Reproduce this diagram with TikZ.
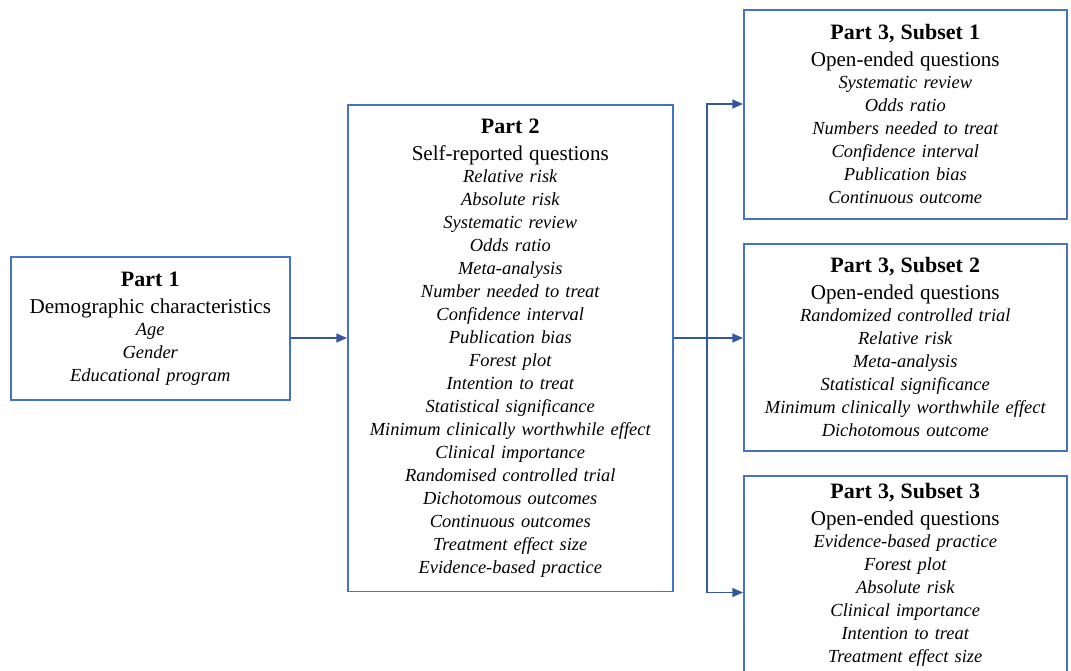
\documentclass[tikz,border=0pt]{standalone}
\usepackage{fontspec}
\setmainfont{Liberation Serif}
\usetikzlibrary{arrows.meta, positioning}

\definecolor{boxblue}{RGB}{68,114,196}
\definecolor{linkblue}{RGB}{52,88,160}

% heading lines of each box
\newcommand{\boxhead}[2]{{\fontsize{12.5}{15.4}\selectfont\bfseries #1\par}%
  {\fontsize{12}{15.4}\selectfont #2\par}\vspace{-0.6pt}\itshape}

\begin{document}
\begin{tikzpicture}[
    x=0.02cm, y=-0.02cm,
    partbox/.style={rectangle, draw=boxblue, line width=0.9pt, anchor=north west,
        inner xsep=2pt, align=center, font=\fontsize{10.5}{13.1}\selectfont},
    line/.style={draw=linkblue, line width=0.9pt},
    arrow/.style={line, -{Triangle[length=6pt, width=5pt]}}
]
\useasboundingbox (0,0) rectangle (1071,670);
\clip (0,0) rectangle (1071,670);

% Part 1 box
\node[partbox, minimum width=5.58cm, minimum height=2.86cm, text width=5.3cm] (part1) at (10,256)
    {\boxhead{Part 1}{Demographic characteristics}Age\\Gender\\Educational program};

% Part 2 box
\node[partbox, minimum width=6.5cm, minimum height=9.74cm, text width=6.3cm] (part2) at (347,104)
    {\boxhead{Part 2}{Self-reported questions}Relative risk\\Absolute risk\\Systematic review\\
     Odds ratio\\Meta-analysis\\Number needed to treat\\Confidence interval\\Publication bias\\
     Forest plot\\Intention to treat\\Statistical significance\\Minimum clinically worthwhile effect\\
     Clinical importance\\Randomised controlled trial\\Dichotomous outcomes\\Continuous outcomes\\
     Treatment effect size\\Evidence-based practice};

% Part 3 boxes
\node[partbox, minimum width=6.46cm, minimum height=4.18cm, text width=6.3cm] (sub1) at (743,9)
    {\boxhead{Part 3, Subset 1}{Open-ended questions}Systematic review\\Odds ratio\\
     Numbers needed to treat\\Confidence interval\\Publication bias\\Continuous outcome};
\node[partbox, minimum width=6.46cm, minimum height=4.14cm, text width=6.3cm] (sub2) at (743,243)
    {\boxhead{Part 3, Subset 2}{Open-ended questions}Randomized controlled trial\\Relative risk\\
     Meta-analysis\\Statistical significance\\Minimum clinically worthwhile effect\\Dichotomous outcome};
\node[partbox, minimum width=6.46cm, minimum height=3.96cm, text width=6.3cm] (sub3) at (743,475)
    {\boxhead{Part 3, Subset 3}{Open-ended questions}Evidence-based practice\\Forest plot\\
     Absolute risk\\Clinical importance\\Intention to treat\\Treatment effect size};

% Connectors
\coordinate (split) at (707,338);
\draw[arrow] (part1.east |- split) -- (part2.west |- split);
\draw[line] (part2.east |- split) -- (split);
\draw[arrow] (split) -- (split |- part2.north) -- (sub1.west |- part2.north);
\draw[arrow] (split) -- (sub2.west |- split);
\draw[arrow] (split) -- (split |- part2.south) -- (sub3.west |- part2.south);
\end{tikzpicture}
\end{document}
